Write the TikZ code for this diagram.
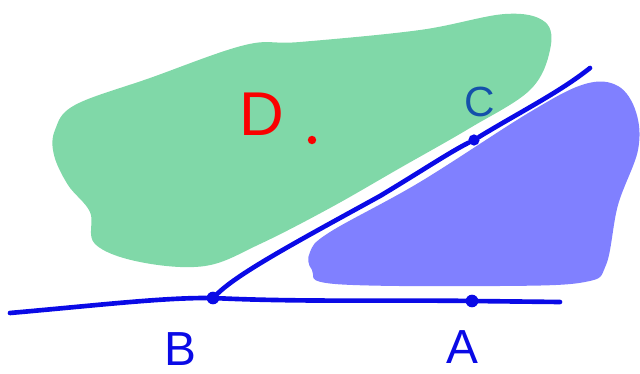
\documentclass[tikz,border=0pt]{standalone}
\usepackage{fontspec}
\setmainfont{Liberation Sans}
\usetikzlibrary{arrows.meta,positioning,calc}
\definecolor{blobgreen}{RGB}{128,216,168}
\definecolor{blobviolet}{RGB}{128,128,255}
\definecolor{penblue}{RGB}{10,10,230}
\definecolor{pendark}{RGB}{20,80,170}
\definecolor{penred}{RGB}{250,0,0}

\begin{document}
\begin{tikzpicture}[x=0.025cm,y=-0.025cm,font=\fontsize{30}{30}\selectfont,
  pen/.style={draw=penblue,line width=3.3pt,line cap=round,line join=round},
  dot/.style={circle,fill=penblue,inner sep=0pt,minimum size=9pt}]
\useasboundingbox (0,0) rectangle (640,374);
% regions
\fill[blobgreen] plot[smooth cycle,tension=0.6] coordinates {(55,130) (75,105) (150,78) (245,45) (300,42) (420,30) (505,14) (545,22) (550,50) (530,90) (470,128) (400,168) (330,208) (260,244) (205,266) (140,262) (95,244) (90,212) (68,185) (54,155)};
\fill[blobviolet] plot[smooth cycle,tension=0.6] coordinates {(310,252) (330,232) (420,182) (530,112) (585,84) (618,86) (636,112) (638,150) (618,205) (606,265) (585,282) (500,286) (335,284) (312,270)};
% points
\node[dot] (b) at (213,298) {};
\node[dot] (a) at (472,301) {};
\node[dot,minimum size=8pt] (c) at (474,140) {};
\coordinate (left) at (10,313);
\coordinate (right) at (560,302);
\coordinate (top) at (590,68);
% lines
\draw[pen] (left) .. controls (100,305) and (160,298) .. (b) .. controls (300,302) and (400,300) .. (a) -- (right);
\draw[pen] (b) .. controls (240,272) and (300,240) .. (380,196) .. controls (420,172) and (450,152) .. (c) .. controls (520,112) and (560,92) .. (top);
% labels
\node[text=penred,font=\fontsize{44}{44}\selectfont] (dlab) at (262,114) {D};
\node[circle,fill=penred,inner sep=0pt,minimum size=6pt] (ddot) at (312,140) {};
\node[text=pendark] (clab) at (480,102) {C};
\node[text=penblue,font=\fontsize{34}{34}\selectfont,inner sep=1pt] (blab) at (180,349) {B};
\node[text=penblue,font=\fontsize{34}{34}\selectfont,inner sep=1pt] (alab) at (462,347) {A};
\end{tikzpicture}
\end{document}
